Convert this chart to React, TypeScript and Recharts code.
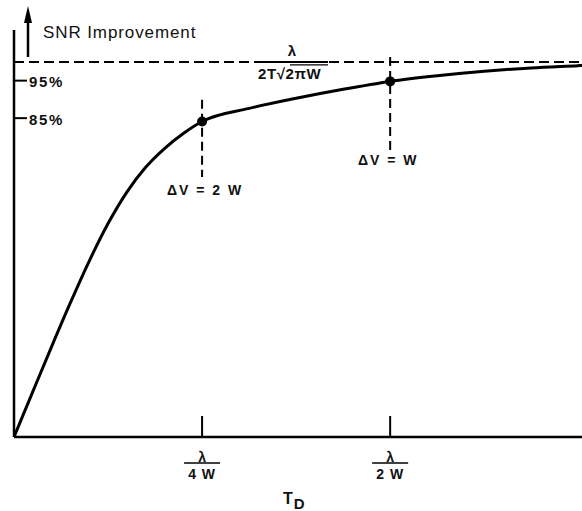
import React from 'react';
import { ComposedChart, Line, XAxis, YAxis, ReferenceLine, ReferenceDot } from 'recharts';

// T_D in units of λ/(4W)
const tdValues = [0, 0.1, 0.2, 0.3, 0.4, 0.5, 0.6, 0.7, 0.8, 0.9, 1.0, 1.25, 1.5, 1.75, 2.0, 2.25, 2.5, 2.75, 3.0, 3.02];
// SNR improvement, percent of the asymptote
const snrValues = [0, 12.1, 24.1, 35.8, 46.9, 56.9, 65.3, 71.9, 76.9, 80.9, 84.1, 87.6, 90.3, 92.7, 94.8, 96.3, 97.5, 98.4, 99.0, 99.05];

const markerT = [1, 2];
const markerSnr = [84.1, 94.8];
const guideTop = [89.9, 101.3];
const guideBottom = [69.3, 76.5];
const markerLabels = ['ΔV = 2 W', 'ΔV = W'];
const labelT = [1.016, 1.99];
const labelSnr = [65.9, 73.9];

const xTicks = [1, 2];
const xTickNumerators = ['λ', 'λ'];
const xTickDenominators = ['4 W', '2 W'];
const yTicks = [85, 95];
const yTickLabels = ['85%', '95%'];
const asymptote = 100;

const data = tdValues.map((t, i) => ({ t, snr: snrValues[i] }));

const FONT = '"Liberation Sans", Arial, Helvetica, sans-serif';

const YTick = (props: any) => {
  const { x, y, payload } = props;
  const idx = yTicks.indexOf(payload.value);
  return (
    <g>
      <line x1={x} x2={x + 13} y1={y} y2={y} stroke="#000" strokeWidth={2} />
      <text x={x + 15} y={y + 1} dominantBaseline="central" textAnchor="start" fontFamily={FONT} fontWeight="bold" fontSize={15} letterSpacing={1.7} fill="#111">
        {yTickLabels[idx]}
      </text>
    </g>
  );
};

const XTick = (props: any) => {
  const { x, y, payload } = props;
  const idx = xTicks.indexOf(payload.value);
  return (
    <g>
      <line x1={x} x2={x} y1={y} y2={y - 21} stroke="#000" strokeWidth={2} />
      <text x={x} y={y + 20} textAnchor="middle" dominantBaseline="central" fontFamily={FONT} fontWeight="bold" fontSize={14} fill="#111">
        {xTickNumerators[idx]}
      </text>
      <line x1={x - 18} x2={x + 18} y1={y + 26} y2={y + 26} stroke="#000" strokeWidth={1.5} />
      <text x={x} y={y + 37} textAnchor="middle" dominantBaseline="central" fontFamily={FONT} fontWeight="bold" fontSize={14} letterSpacing={1} fill="#111">
        {xTickDenominators[idx]}
      </text>
    </g>
  );
};

const YTitle = (props: any) => {
  const vb = props.viewBox || { x: 13, y: 30, width: 1 };
  const axisX = vb.x + (vb.width || 0);
  const ax = axisX + 14;
  const top = vb.y;
  return (
    <g>
      <line x1={ax} x2={ax} y1={top + 27} y2={top - 10} stroke="#000" strokeWidth={2.5} />
      <polygon points={`${ax - 4},${top - 7} ${ax},${top - 24} ${ax + 4},${top - 7}`} fill="#000" />
      <text x={axisX + 29} y={top + 8} fontFamily={FONT} fontSize={17} letterSpacing={0.9} fill="#111">
        SNR Improvement
      </text>
    </g>
  );
};

const XTitle = (props: any) => {
  const vb = props.viewBox || { x: 14, y: 437 };
  const cx = vb.x + 269;
  const by = vb.y;
  return (
    <text x={cx} y={by + 67} fontFamily={FONT} fontWeight="bold" fontSize={16} fill="#111">
      T<tspan dx={1} dy={5} fontSize={15}>D</tspan>
    </text>
  );
};

const AsymptoteLabel = (props: any) => {
  const vb = props.viewBox || { x: 14, y: 62 };
  const x0 = vb.x + 243;
  const y0 = vb.y;
  return (
    <g>
      <line x1={x0} x2={x0 + 71} y1={y0} y2={y0} stroke="#000" strokeWidth={2} />
      <text x={x0 + 35} y={y0 - 11} textAnchor="middle" dominantBaseline="central" fontFamily={FONT} fontWeight="bold" fontSize={15} fill="#111">
        λ
      </text>
      <text x={x0 + 1} y={y0 + 12} dominantBaseline="central" fontFamily={FONT} fontWeight="bold" fontSize={15} letterSpacing={0.6} fill="#111">
        2T√2πW
      </text>
      <line x1={x0 + 33} x2={x0 + 71} y1={y0 + 3} y2={y0 + 3} stroke="#000" strokeWidth={1.2} />
    </g>
  );
};

const makeDotLabel = (text: string) => (props: any) => {
  const vb = props.viewBox || { x: 0, y: 0, width: 0, height: 0 };
  const cx = vb.x + (vb.width || 0) / 2;
  const cy = vb.y + (vb.height || 0) / 2;
  return (
    <text x={cx} y={cy} textAnchor="middle" dominantBaseline="central" fontFamily={FONT} fontWeight="bold" fontSize={14} letterSpacing={2} fill="#111">
      {text}
    </text>
  );
};

export default function App() {
  return (
    <div style={{ position: 'absolute', left: 0, top: 0, width: 582, height: 511, background: '#fff' }}>
      <ComposedChart width={582} height={511} data={data} margin={{ top: 30, right: 0, bottom: 73, left: 13 }}>
        <XAxis
          type="number"
          dataKey="t"
          domain={[0, 3.02]}
          ticks={xTicks}
          interval={0}
          allowDataOverflow
          height={1}
          tickSize={0}
          tickMargin={0}
          tickLine={false}
          axisLine={{ stroke: '#000', strokeWidth: 2.5 }}
          tick={<XTick />}
          label={{ content: XTitle }}
        />
        <YAxis
          type="number"
          domain={[0, 108.5]}
          ticks={yTicks}
          interval={0}
          allowDataOverflow
          width={1}
          tickSize={0}
          tickMargin={0}
          tickLine={false}
          axisLine={{ stroke: '#000', strokeWidth: 2.5 }}
          tick={<YTick />}
          label={{ content: YTitle }}
        />
        <ReferenceLine
          y={asymptote}
          stroke="#000"
          strokeWidth={2}
          strokeDasharray="10 5"
          label={{ content: AsymptoteLabel }}
        />
        {markerT.map((t, i) => (
          <ReferenceLine
            key={'g' + i}
            segment={[{ x: t, y: guideTop[i] }, { x: t, y: guideBottom[i] }]}
            stroke="#000"
            strokeWidth={2}
            strokeDasharray="9 5"
          />
        ))}
        <Line
          type="monotone"
          dataKey="snr"
          stroke="#000"
          strokeWidth={3}
          dot={false}
          activeDot={false}
          isAnimationActive={false}
        />
        {markerT.map((t, i) => (
          <ReferenceDot key={'d' + i} x={t} y={markerSnr[i]} r={5} fill="#000" stroke="none" />
        ))}
        {markerLabels.map((s, i) => (
          <ReferenceDot
            key={'l' + i}
            x={labelT[i]}
            y={labelSnr[i]}
            r={1}
            fill="none"
            stroke="none"
            label={{ content: makeDotLabel(s) }}
          />
        ))}
      </ComposedChart>
    </div>
  );
}
